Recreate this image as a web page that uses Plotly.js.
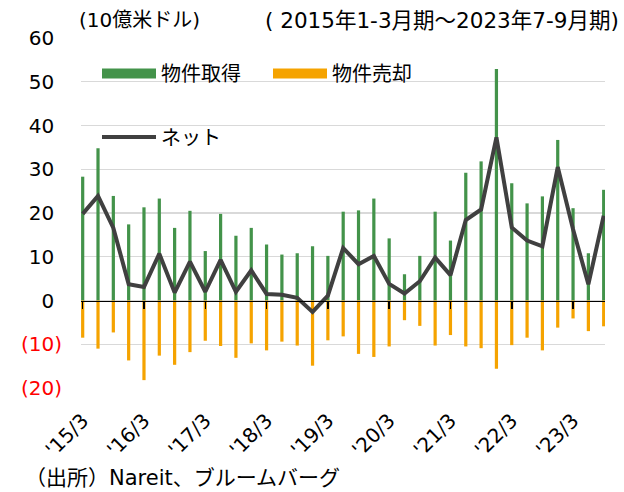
<!DOCTYPE html>
<html>
<head>
<meta charset="utf-8">
<script src="https://cdn.plot.ly/plotly-3.0.1.min.js"></script>
<style>html,body{margin:0;padding:0;background:#fff;}#chart{width:624px;height:492px;}</style>
</head>
<body>
<div id="chart"></div>
<script>
// Quarter categories ('YY/month-end of quarter)
const quarters = [
  "'15/3","'15/6","'15/9","'15/12",
  "'16/3","'16/6","'16/9","'16/12",
  "'17/3","'17/6","'17/9","'17/12",
  "'18/3","'18/6","'18/9","'18/12",
  "'19/3","'19/6","'19/9","'19/12",
  "'20/3","'20/6","'20/9","'20/12",
  "'21/3","'21/6","'21/9","'21/12",
  "'22/3","'22/6","'22/9","'22/12",
  "'23/3","'23/6","'23/9"
];
// 物件取得 (acquisitions, $bn)
const acquisitions = [28.3,34.8,23.9,17.4,21.3,23.3,16.6,20.5,11.3,19.8,
  14.8,16.6,12.8,10.5,10.8,12.4,10.2,20.3,20.6,23.3,
  14.2,6.0,10.2,20.3,13.7,29.2,31.8,52.9,26.8,22.2,
  23.8,36.7,21.1,10.8,25.3];
// 物件売却 (dispositions, $bn)
const dispositions = [-8.5,-11.0,-7.3,-13.7,-18.2,-12.6,-14.7,-11.8,-9.2,-10.4,
  -13.1,-9.8,-11.4,-9.4,-10.3,-14.9,-9.1,-8.2,-12.2,-12.9,
  -10.5,-4.5,-5.8,-10.3,-7.9,-10.5,-10.9,-15.6,-10.2,-8.5,
  -11.4,-6.2,-4.1,-7.0,-5.9];
// ネット (net, $bn)
const net = [19.8,23.9,16.6,3.7,3.1,10.7,1.8,8.9,2.0,9.3,
  2.0,6.9,1.5,1.3,0.6,-2.6,1.1,12.0,8.3,10.2,
  3.8,1.6,4.4,9.8,5.8,18.4,20.8,37.3,16.7,13.7,
  12.4,30.5,16.3,3.7,19.4];
// x tick labels
const xTickVals = ["'15/3","'16/3","'17/3","'18/3","'19/3","'20/3","'21/3","'22/3","'23/3"];
// y ticks
const yTickVals = [-20,-10,0,10,20,30,40,50,60];
const yTickText = yTickVals.map(v => v < 0
  ? '<span style="color:#ff0000">(' + Math.abs(v) + ')</span>'
  : v + '<span style="color:#ffffff">)</span>');

const GREEN = '#43934a', ORANGE = '#f5a300', LINE = '#404040';
const FONT = 'DejaVu Sans, Noto Sans CJK JP, sans-serif';

// plot-area geometry helpers (for annotation / legend placement in paper coords)
const L = 81, R = 19, T = 38, B = 104, W = 624, H = 492;
const pw = W - L - R, ph = H - T - B;
const px = x => (x - L) / pw;
const py = y => (H - B - y) / ph;

const xRange = [-0.11, quarters.length - 1 + 0.085];

const traces = [
  {type:'bar', x:quarters, y:acquisitions, marker:{color:GREEN, line:{width:0}}, width:0.21, showlegend:false, xaxis:'x', yaxis:'y'},
  {type:'bar', x:quarters, y:dispositions, marker:{color:ORANGE, line:{width:0}}, width:0.21, showlegend:false, xaxis:'x', yaxis:'y'},
  // legend entries
  {type:'scatter', mode:'lines', x:[null], y:[null], name:'物件取得', line:{color:GREEN, width:13}, legend:'legend', hoverinfo:'skip'},
  {type:'scatter', mode:'lines', x:[null], y:[null], name:'物件売却', line:{color:ORANGE, width:13}, legend:'legend', hoverinfo:'skip'},
  {type:'scatter', mode:'lines', x:quarters, y:net, name:'ネット', line:{color:LINE, width:4}, legend:'legend2', xaxis:'x2', yaxis:'y'}
];

const layout = {
  width: W, height: H,
  margin: {l:L, r:R, t:T, b:B, pad:0, autoexpand:false},
  paper_bgcolor:'#fff', plot_bgcolor:'#fff',
  font: {family: FONT, size: 20, color:'#000'},
  barmode: 'relative',
  xaxis: {
    type:'category', categoryorder:'array', categoryarray:quarters,
    range: xRange, showgrid:false, zeroline:false, showline:false,
    ticks:'', tickmode:'array', tickvals:xTickVals, ticktext:xTickVals,
    tickangle:-45, tickfont:{size:20, family:FONT}, ticklabelstandoff:16, automargin:false
  },
  xaxis2: {
    type:'category', categoryorder:'array', categoryarray:quarters,
    overlaying:'x', anchor:'free', position:0.25, side:'bottom',
    range: xRange, showgrid:false, zeroline:false,
    showline:true, linecolor:'#000', linewidth:1.5,
    ticks:'outside', ticklen:7, tickwidth:1.5, tickcolor:'#000',
    tickmode:'array', tickvals:xTickVals, showticklabels:false, automargin:false
  },
  yaxis: {
    range:[-20,60], tickmode:'array', tickvals:yTickVals, ticktext:yTickText,
    showgrid:true, gridcolor:'#d9d9d9', gridwidth:1.3, zeroline:false,
    showline:false, ticks:'', tickfont:{size:20, family:FONT}, ticklabelstandoff:18, automargin:false
  },
  legend: {
    orientation:'h', xref:'paper', yref:'paper',
    x: px(97), y: py(73.5), xanchor:'left', yanchor:'middle',
    itemwidth:54, entrywidth:102, entrywidthmode:'pixels',
    font:{size:20, family:FONT}, bgcolor:'rgba(0,0,0,0)', borderwidth:0
  },
  legend2: {
    orientation:'h', xref:'paper', yref:'paper',
    x: px(97), y: py(137), xanchor:'left', yanchor:'middle',
    itemwidth:54,
    font:{size:20, family:FONT}, bgcolor:'rgba(0,0,0,0)', borderwidth:0
  },
  annotations: [
    {text:'(10億米ドル)', xref:'paper', yref:'paper', x:px(77), y:py(20), xanchor:'left', yanchor:'middle', showarrow:false, font:{size:20, family:FONT}},
    {text:'( 2015年1-3月期～2023年7-9月期)', xref:'paper', yref:'paper', x:px(621), y:py(20), xanchor:'right', yanchor:'middle', showarrow:false, font:{size:21.5, family:FONT}},
    {text:'（出所）Nareit、ブルームバーグ', xref:'paper', yref:'paper', x:px(23), y:py(478.5), xanchor:'left', yanchor:'middle', showarrow:false, font:{size:21, family:FONT}}
  ],
  hovermode:false
};

Plotly.newPlot('chart', traces, layout, {staticPlot:true, displayModeBar:false});
</script>
</body>
</html>
